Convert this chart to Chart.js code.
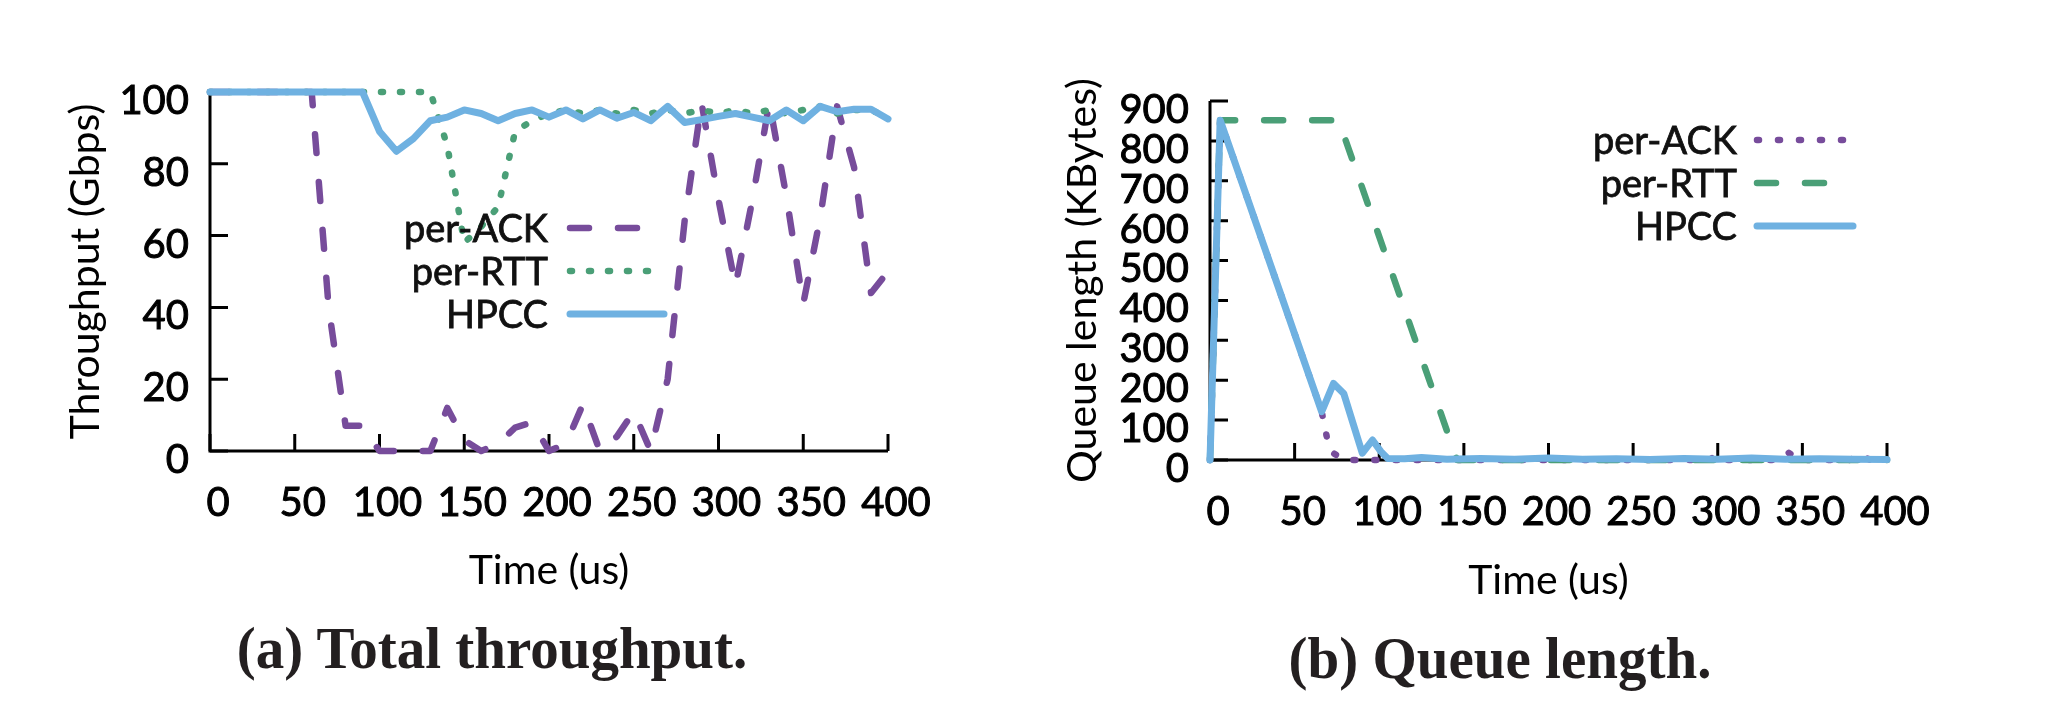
<!DOCTYPE html>
<html>
<head>
<meta charset="utf-8">
<script src="https://cdn.jsdelivr.net/npm/chart.js@4.4.0/dist/chart.umd.min.js"></script>
<style>
  html, body { margin: 0; padding: 0; background: #fff; }
  #wrap { position: relative; width: 2060px; height: 724px; overflow: hidden; }
  canvas { position: absolute; top: 0; }
  #c1 { left: 0; }
  #c2 { left: 1030px; }
  .cap { position: absolute; font-family: 'Liberation Serif', serif; font-weight: bold; font-size: 60px;
         line-height: 60px; white-space: nowrap; color: #231f20; transform: translateX(-50%) scaleX(0.95); }
</style>
</head>
<body>
<div id="wrap">
  <canvas id="c1" width="1030" height="724"></canvas>
  <canvas id="c2" width="1030" height="724"></canvas>
  <div class="cap" style="left:492px; top:618px">(a) Total throughput.</div>
  <div class="cap" style="left:1500px; top:628px">(b) Queue length.</div>
</div>
<script>
// (a) throughput, sampled every 10 us
const tputTime = [0, 10, 20, 30, 40, 50, 60, 70, 80, 90, 100, 110, 120, 130, 140, 150, 160, 170, 180, 190,
                  200, 210, 220, 230, 240, 250, 260, 270, 280, 290, 300, 310, 320, 330, 340, 350, 360, 370, 380, 390, 400];
const tputPerAck = [100, 100, 100, 100, 100, 100, 100, 40, 7, 7, 0, 0, 0, 0, 12, 3, 0, 2, 6.5, 8,
                    0, 2, 13, 0, 4, 11, 0, 20, 64, 97, 70, 46, 70, 97, 71, 41, 65, 96, 79, 44, 50];
const tputPerRtt = [100, 100, 100, 100, 100, 100, 100, 100, 100, 100, 100, 100, 100, 100, 85, 58, 62.5, 68, 89, 92,
                    94, 95, 94, 95, 94, 95, 94, 95, 94, 95, 94, 95, 94, 95, 94, 95, 96, 94, 95, 95, 93];
const tputHpcc = [100, 100, 100, 100, 100, 100, 100, 100, 100, 100, 89, 83.5, 87, 92, 93, 95, 94, 92, 94, 95,
                  93, 95, 92.5, 95, 92.7, 94.3, 92, 96, 91.5, 92.3, 93.2, 94, 93, 92, 95, 92, 96, 94.5, 95.2, 95.2, 92.5];

// (b) queue length
const qAckTime = [0, 6, 66, 69, 73, 79, 100, 295, 300, 305, 336, 342, 348, 378, 384, 390, 400];
const qAckVal  = [0, 852, 121, 58, 17, 0, 0, 0, 14, 0, 0, 18, 0, 0, 15, 0, 0];
const qRttTime = [0, 6, 76, 146, 400];
const qRttVal  = [0, 852, 852, 0, 0];
const qHpccTime = [0, 6, 66, 73, 79, 90, 96, 101, 105, 115, 125, 140, 160, 180, 200, 220, 240, 260, 280, 300, 320, 340, 360, 380, 400];
const qHpccVal  = [0, 852, 121, 192, 167, 17, 50, 21, 4, 3, 6, 2, 4, 2, 5, 2, 3, 1, 4, 2, 5, 2, 3, 2, 1];

const seriesNames = ['per-ACK', 'per-RTT', 'HPCC'];
const purple = '#774c9b', green = '#4a9f77', blue = '#6fb1e1';

function pts(xs, ys) { return xs.map((x, i) => ({x: x, y: ys[i]})); }

// gnuplot-like axes: left + bottom border with inward ticks
const gnuAxes = {
  id: 'gnuAxes',
  beforeDatasetsDraw(chart) {
    const {ctx, chartArea: a, scales: {x, y}} = chart;
    ctx.save();
    ctx.strokeStyle = '#000';
    ctx.lineWidth = 3;
    ctx.beginPath();
    ctx.moveTo(a.left, a.top);
    ctx.lineTo(a.left, a.bottom);
    ctx.lineTo(a.right, a.bottom);
    ctx.stroke();
    ctx.beginPath();
    x.ticks.forEach(t => { const px = x.getPixelForValue(t.value); ctx.moveTo(px, a.bottom); ctx.lineTo(px, a.bottom - 17); });
    y.ticks.forEach(t => { const py = y.getPixelForValue(t.value); ctx.moveTo(a.left, py); ctx.lineTo(a.left + 18, py); });
    ctx.stroke();
    ctx.restore();
  }
};

// legend: label right-aligned, line sample on the right
const gnuLegend = {
  id: 'gnuLegend',
  afterDatasetsDraw(chart, args, opts) {
    const ctx = chart.ctx;
    ctx.save();
    ctx.font = '38px Lato';
    ctx.fillStyle = '#111';
    ctx.strokeStyle = '#111';
    ctx.lineWidth = 0.8;
    ctx.textAlign = 'right';
    ctx.textBaseline = 'middle';
    chart.data.datasets.forEach((ds, i) => {
      const yy = opts.rows[i];
      ctx.fillText(ds.label, opts.textRight, yy + 2);
      ctx.strokeText(ds.label, opts.textRight, yy + 2);
    });
    ctx.lineCap = 'round';
    chart.data.datasets.forEach((ds, i) => {
      const yy = opts.rows[i];
      ctx.strokeStyle = ds.borderColor;
      ctx.lineWidth = ds.borderWidth;
      ctx.setLineDash(ds.borderDash || []);
      ctx.beginPath();
      ctx.moveTo(opts.x0, yy);
      ctx.lineTo(opts.x1, yy);
      ctx.stroke();
    });
    ctx.restore();
  }
};

function makeChart(id, o) {
  const tickFont = {family: 'Lato', size: 40};
  return new Chart(document.getElementById(id), {
    type: 'line',
    data: {datasets: o.datasets},
    options: {
      responsive: false,
      animation: false,
      layout: {padding: o.padding},
      elements: {line: {tension: 0, borderCapStyle: 'round', borderJoinStyle: 'round'}, point: {radius: 0}},
      plugins: {legend: {display: false}, tooltip: {enabled: false}, gnuLegend: o.legend},
      scales: {
        x: {
          type: 'linear', min: 0, max: 400,
          grid: {display: false, drawTicks: false},
          border: {display: false},
          ticks: {stepSize: 50, font: tickFont, color: '#000', textStrokeColor: '#000', textStrokeWidth: 1,
                  padding: o.xPad, labelOffset: 8, maxRotation: 0, autoSkip: false},
          title: {display: true, text: 'Time (us)', font: {family: 'Lato', size: 41}, color: '#000', padding: {top: 0, bottom: o.xTitleBottom}},
          afterFit: s => { s.height = o.xHeight; }
        },
        y: {
          min: 0, max: o.yMax,
          grid: {display: false, drawTicks: false},
          border: {display: false},
          ticks: {stepSize: o.yStep, font: tickFont, color: '#000', textStrokeColor: '#000', textStrokeWidth: 1,
                  padding: 21, labelOffset: 9, autoSkip: false},
          title: {display: true, text: o.yTitle, font: {family: 'Lato', size: 41}, color: '#000', padding: {top: o.yTitleTop, bottom: 0}},
          afterFit: s => { s.width = o.yWidth; }
        }
      }
    },
    plugins: [gnuAxes, gnuLegend]
  });
}

function ds(label, data, color, dash, width, order) {
  return {label: label, data: data, borderColor: color, borderWidth: width, borderDash: dash, order: order, clip: false, fill: false};
}

makeChart('c1', {
  padding: {top: 92, right: 142, bottom: 0, left: 0},
  yWidth: 210, xHeight: 273, xPad: 28, xTitleBottom: 129, yTitleTop: 61,
  yMax: 100, yStep: 20, yTitle: 'Throughput (Gbps)',
  legend: {textRight: 548, x0: 570, x1: 664, rows: [228, 271, 314]},
  datasets: [
    ds(seriesNames[0], pts(tputTime, tputPerAck), purple, [19, 29], 6.5, 3),
    ds(seriesNames[1], pts(tputTime, tputPerRtt), green, [2, 17], 6.5, 2),
    ds(seriesNames[2], pts(tputTime, tputHpcc), blue, [], 7, 1)
  ]
});

makeChart('c2', {
  padding: {top: 101, right: 173, bottom: 0, left: 0},
  yWidth: 180, xHeight: 264, xPad: 28, xTitleBottom: 119, yTitleTop: 28,
  yMax: 900, yStep: 100, yTitle: 'Queue length (KBytes)',
  legend: {textRight: 707, x0: 727, x1: 823, rows: [140, 183, 226]},
  datasets: [
    ds(seriesNames[0], pts(qAckTime, qAckVal), purple, [2, 19], 6.5, 3),
    ds(seriesNames[1], pts(qRttTime, qRttVal), green, [19, 29], 6.5, 2),
    ds(seriesNames[2], pts(qHpccTime, qHpccVal), blue, [], 7, 1)
  ]
});
</script>
</body>
</html>
